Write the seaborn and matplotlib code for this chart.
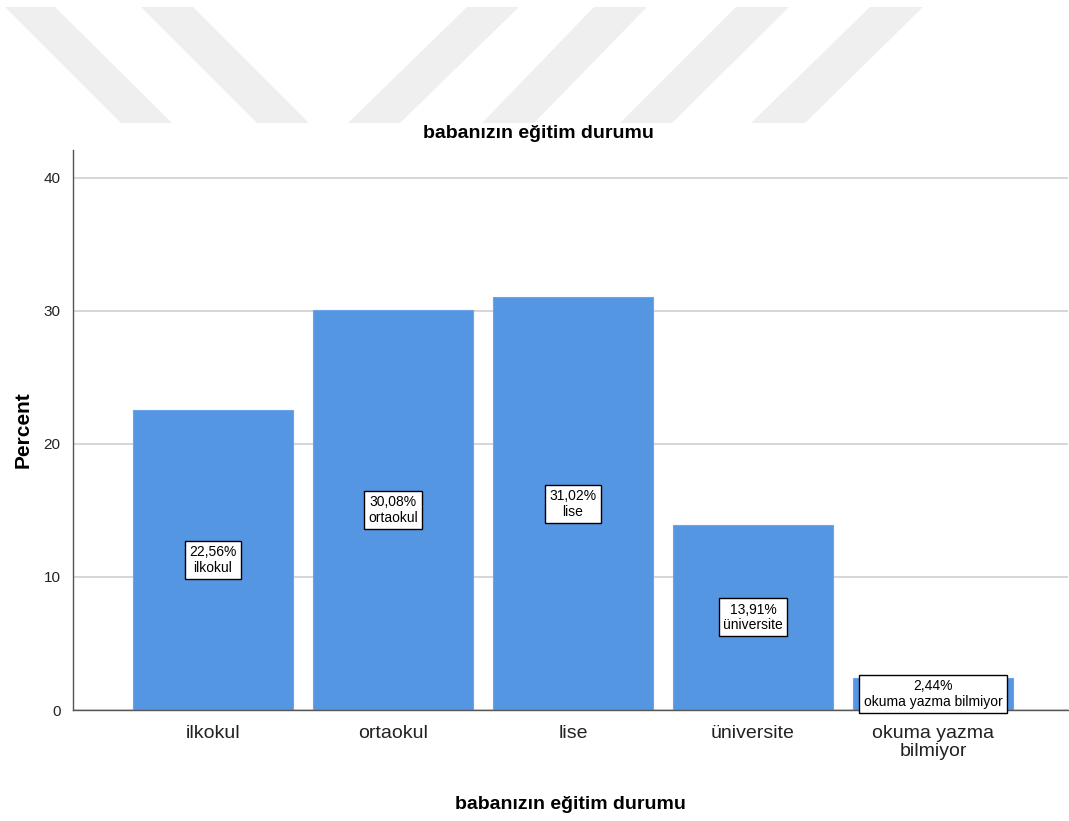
import matplotlib
matplotlib.use("Agg")
import matplotlib.pyplot as plt
from matplotlib.patches import Polygon
import seaborn as sns
import pandas as pd

# chart data
categories = ["ilkokul", "ortaokul", "lise", "üniversite", "okuma yazma bilmiyor"]
tick_labels = ["ilkokul", "ortaokul", "lise", "üniversite", "okuma yazma\nbilmiyor"]
percents = [22.56, 30.08, 31.02, 13.91, 2.44]
y_ticks = [0, 10, 20, 30, 40]

BAR_COLOR = "#5596e3"
W, H = 1069, 821

sns.set_theme(style="white")
plt.rcParams["font.family"] = ["Liberation Sans", "DejaVu Sans"]
plt.rcParams["text.color"] = "black"
plt.rcParams["axes.labelcolor"] = "black"

fig = plt.figure(figsize=(W / 100, H / 100), dpi=100)

# watermark stripes at the top (pixel x: top-left, top-right, bottom-right, bottom-left)
stripes = [(5, 55, 172, 121), (141, 193, 309, 257), (467, 519, 400, 348),
           (594, 647, 534, 482), (736, 789, 672, 620), (870, 923, 805, 751)]
for tl, tr, br, bl in stripes:
    pts = [(tl / W, 1 - 7 / H), (tr / W, 1 - 7 / H), (br / W, 1 - 123 / H), (bl / W, 1 - 123 / H)]
    fig.patches.append(Polygon(pts, closed=True, transform=fig.transFigure,
                               facecolor="#efefef", edgecolor="none", zorder=0))

ax = fig.add_axes([73 / W, 1 - 710 / H, 995 / W, 560 / H])
df = pd.DataFrame({"cat": categories, "pct": percents})
sns.barplot(data=df, x="cat", y="pct", color=BAR_COLOR, saturation=1, width=0.889,
            edgecolor="#6aa3e8", linewidth=0.8, ax=ax, zorder=2)

ax.set_xlim(-0.778, 4.75)
ax.set_ylim(0, 42.1)
ax.set_yticks(y_ticks)
ax.set_yticklabels([str(t) for t in y_ticks], fontsize=11, color="#222222")
ax.set_xticks(range(len(categories)))
ax.set_xticklabels(tick_labels, fontsize=14, color="#222222", linespacing=1.05)
ax.yaxis.grid(True, color="#cfcfcf", linewidth=1.2, zorder=0)
ax.set_axisbelow(True)
ax.tick_params(axis="y", length=5, color="#cfcfcf", pad=4)
ax.tick_params(axis="x", length=0, pad=11)
for s in ["top", "right"]:
    ax.spines[s].set_visible(False)
for s in ["left", "bottom"]:
    ax.spines[s].set_color("#555555")
    ax.spines[s].set_linewidth(1.0)

for i, (cat, v) in enumerate(zip(categories, percents)):
    txt = f"{v:.2f}%".replace(".", ",") + "\n" + cat
    ax.text(i, v / 2, txt, ha="center", va="center", fontsize=10, linespacing=1.15,
            color="black", zorder=5,
            bbox=dict(boxstyle="square,pad=0.3", facecolor="white", edgecolor="black", linewidth=1.0))

ax.set_xlabel("babanızın eğitim durumu", fontsize=14, fontweight="bold", labelpad=26)
ax.set_ylabel("Percent", fontsize=15, fontweight="bold", labelpad=8)
fig.text(538 / W, 1 - 133 / H, "babanızın eğitim durumu", ha="center", va="center",
         fontsize=14, fontweight="bold")

fig.savefig("out.png", dpi=100)
